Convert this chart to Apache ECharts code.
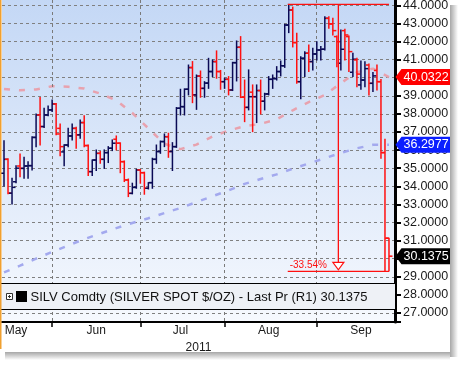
<!DOCTYPE html>
<html><head><meta charset="utf-8">
<script src="https://cdn.jsdelivr.net/npm/echarts@6/dist/echarts.min.js"></script>
<style>html,body{margin:0;padding:0;background:#fff}#c{width:462px;height:366px}</style>
</head><body><div id="c"></div>
<script>
// ---------------- data ----------------
const dates = [
'2011-05-16','2011-05-17','2011-05-18','2011-05-19','2011-05-20','2011-05-23','2011-05-24','2011-05-25','2011-05-26','2011-05-27','2011-05-30','2011-05-31',
'2011-06-01','2011-06-02','2011-06-03','2011-06-06','2011-06-07','2011-06-08','2011-06-09','2011-06-10','2011-06-13','2011-06-14','2011-06-15','2011-06-16','2011-06-17','2011-06-20','2011-06-21','2011-06-22','2011-06-23','2011-06-24','2011-06-27','2011-06-28','2011-06-29','2011-06-30',
'2011-07-01','2011-07-04','2011-07-05','2011-07-06','2011-07-07','2011-07-08','2011-07-11','2011-07-12','2011-07-13','2011-07-14','2011-07-15','2011-07-18','2011-07-19','2011-07-20','2011-07-21','2011-07-22','2011-07-25','2011-07-26','2011-07-27','2011-07-28','2011-07-29',
'2011-08-01','2011-08-02','2011-08-03','2011-08-04','2011-08-05','2011-08-08','2011-08-09','2011-08-10','2011-08-11','2011-08-12','2011-08-15','2011-08-16','2011-08-17','2011-08-18','2011-08-19','2011-08-22','2011-08-23','2011-08-24','2011-08-25','2011-08-26','2011-08-29','2011-08-30','2011-08-31',
'2011-09-01','2011-09-02','2011-09-05','2011-09-06','2011-09-07','2011-09-08','2011-09-09','2011-09-12','2011-09-13','2011-09-14','2011-09-15','2011-09-16','2011-09-19','2011-09-20','2011-09-21','2011-09-22','2011-09-23','2011-09-26','2011-09-27'
];
const opens = [34.72,35.49,33.62,34.25,35.12,34.99,35.12,35.14,36.70,37.94,
37.30,37.94,38.22,38.55,37.20,35.90,36.28,36.78,37.20,36.84,
37.52,36.25,34.81,35.45,35.82,35.49,35.86,36.10,36.60,36.38,
35.36,34.35,33.61,33.94,34.90,34.75,33.89,34.20,35.49,35.92,
36.47,36.74,35.92,36.19,38.31,38.40,39.36,40.56,39.05,40.09,
39.41,39.70,40.34,40.89,40.34,39.78,39.91,39.32,40.83,41.68,
38.92,38.36,39.20,38.95,39.29,38.70,39.10,39.91,39.95,40.34,
40.66,42.91,43.74,41.94,39.78,41.07,41.35,40.89,41.31,41.53,
41.57,43.28,42.97,42.27,40.80,42.60,42.27,40.30,40.98,39.60,
39.87,40.70,39.69,40.40,39.78,35.86,31.13];
const highs = [36.52,35.52,34.44,35.14,35.79,35.60,35.36,36.74,38.00,38.90,
38.31,38.44,38.77,38.58,37.44,36.30,37.20,37.44,37.26,37.66,
37.89,36.28,35.45,36.01,35.92,36.01,36.19,36.56,36.78,36.40,
35.40,34.40,34.17,34.94,34.92,34.78,34.20,35.55,36.28,36.50,
36.89,36.93,36.41,38.35,39.36,39.38,40.70,40.89,40.15,40.37,
39.78,41.07,40.98,41.48,40.40,39.97,40.06,40.85,42.03,42.27,
39.87,40.43,39.60,39.60,39.87,39.14,40.06,40.15,40.61,40.92,
42.95,44.05,43.90,42.45,41.16,41.44,41.81,41.62,41.99,41.72,
43.37,43.37,43.28,42.30,42.64,42.67,42.30,41.35,41.07,40.92,
40.88,40.76,40.28,40.70,39.90,36.60,31.13];
const lows = [34.02,33.58,33.02,34.20,34.53,34.44,34.44,34.90,36.19,36.28,
37.25,37.90,38.13,36.84,35.69,35.14,36.19,36.56,36.10,36.65,
36.19,34.59,34.59,34.87,35.27,34.99,35.31,35.97,36.01,34.75,
34.26,33.43,33.58,33.89,34.17,33.56,33.85,33.89,35.27,35.82,
36.19,35.60,34.87,36.15,37.94,37.94,39.05,38.62,38.25,38.92,
38.92,39.41,40.06,39.97,39.36,39.41,39.05,39.29,39.82,38.90,
37.57,38.22,37.02,37.52,38.00,38.22,39.05,39.41,39.87,40.10,
40.57,42.49,41.70,39.69,38.84,40.06,40.34,40.43,40.98,40.98,
41.53,42.73,42.36,40.61,40.43,40.98,40.34,40.06,39.50,39.36,
39.50,39.04,39.23,39.32,35.55,29.30,29.32];
const closes = [35.49,33.62,33.94,35.00,34.99,35.12,35.14,36.70,37.94,37.30,
37.94,38.22,38.55,36.89,36.19,36.28,36.78,37.20,36.84,37.52,
36.25,34.81,35.45,35.82,35.49,35.86,36.10,36.38,36.38,35.36,
34.35,33.61,33.94,34.90,34.75,33.89,34.20,35.49,35.92,36.47,
36.74,35.92,36.19,38.31,38.40,39.36,40.56,39.05,40.09,39.41,
39.70,40.34,40.89,40.34,39.78,39.91,39.32,40.83,41.68,38.92,
38.36,38.95,38.95,39.29,38.70,39.10,39.91,39.95,40.34,40.66,
42.91,43.74,41.94,39.78,41.07,41.35,40.89,41.31,41.53,41.57,
43.28,42.97,42.60,41.99,41.57,42.36,41.44,41.02,40.20,39.87,
40.50,39.69,40.10,39.78,35.86,31.13,30.1375];
// moving averages, read every 4th trading day
const maSampleEvery = 4;
const maRed = [39.38,39.30,39.35,39.53,39.50,39.40,39.12,38.75,38.05,37.20,36.35,36.05,36.30,36.75,37.08,37.32,37.45,37.70,38.20,38.65,39.05,39.70,40.30,40.50,40.0322];
const maBlue = [29.24,29.61,30.00,30.37,30.73,31.08,31.38,31.69,31.97,32.23,32.52,32.80,33.13,33.45,33.77,34.13,34.40,34.66,34.97,35.26,35.55,35.84,36.10,36.29,36.2977];
const lastPrice = 30.1375, maRedLast = 40.0322, maBlueLast = 36.2977;
const changeLabel = '-33.54%';
const legendName = 'SILV Comdty (SILVER SPOT $/OZ) - Last Pr (R1)';
const yearLabel = '2011';
const monthNames = ['Jan','Feb','Mar','Apr','May','Jun','Jul','Aug','Sep','Oct','Nov','Dec'];

// ---------------- layout helpers ----------------
const FONT = '"Liberation Sans", Arial, sans-serif';
const NAVY = '#0a0a55', RED = '#ff1010';
const Y_MIN = 26.5, Y_MAX = 44.5;
const monthOf = d => +d.slice(5, 7);
const firstIdx = {}, lastIdx = {};
dates.forEach((d, i) => { const m = monthOf(d); if (!(m in firstIdx)) firstIdx[m] = i; lastIdx[m] = i; });
const monthList = Object.keys(firstIdx).map(Number).sort((a, b) => a - b);
const labelIdx = new Set();
monthList.forEach((m, j) => {
  let idx;
  if (j === 0) idx = 3;
  else if (j === monthList.length - 1) idx = firstIdx[m] + 11;
  else idx = Math.round((firstIdx[m] + lastIdx[m]) / 2);
  labelIdx.add(idx);
});
const monthStart = new Set();
dates.forEach((d, i) => { if (i > 0 && monthOf(d) !== monthOf(dates[i - 1])) monthStart.add(i); });
const xCats = dates.concat(['']);

const ohlcData = dates.map((d, i) => [i, opens[i], highs[i], lows[i], closes[i]]);
const iHigh = highs.indexOf(Math.max(...highs));
const lowMin = Math.min(...lows);
const iEnd = dates.length - 1;

// dashed vertical line built from short solid segments
function dashedV(x, y0, y1) {
  const segs = [];
  for (let y = y0; y < y1; y += 6) {
    segs.push({type: 'line', shape: {x1: x, y1: y, x2: x, y2: Math.min(y + 3, y1)},
      style: {stroke: '#7a7a7a', lineWidth: 1}});
  }
  return segs;
}

const chart = echarts.init(document.getElementById('c'), null, {renderer: 'canvas'});
const gridLine = {color: '#808080', width: 1, type: [3, 3]};

const option = {
  animation: false,
  backgroundColor: '#fff',
  grid: {
    show: true, left: 2, right: 67, top: -3.75, bottom: 44, containLabel: false, outerBoundsMode: 'none',
    borderWidth: 0,
    backgroundColor: new echarts.graphic.LinearGradient(0, 0, 0, 1, [
      {offset: 0, color: '#c3d7f5'}, {offset: 1, color: '#f6f9fe'}])
  },
  xAxis: {
    type: 'category', data: xCats, boundaryGap: true,
    axisLine: {show: true, lineStyle: {color: '#000', width: 2}},
    axisTick: {show: true, alignWithLabel: true, interval: i => monthStart.has(i), length: 5, lineStyle: {color: '#000', width: 1.5}},
    axisLabel: {
      interval: i => labelIdx.has(i),
      formatter: (v, i) => (labelIdx.has(i) && v) ? monthNames[monthOf(v) - 1] : '',
      margin: 3, color: '#1a1a1a', fontSize: 12, fontFamily: FONT
    },
    splitLine: {show: false},
    name: yearLabel, nameLocation: 'middle', nameGap: 18,
    nameTextStyle: {fontSize: 12, color: '#1a1a1a', fontFamily: FONT}
  },
  yAxis: {
    type: 'value', position: 'right', min: Y_MIN, max: Y_MAX, splitNumber: 18, minInterval: 1, maxInterval: 1,
    axisLine: {show: true, lineStyle: {color: '#000', width: 3}},
    axisTick: {show: true, length: 6, lineStyle: {color: '#000', width: 2}},
    axisLabel: {
      margin: 8, color: '#1a1a1a', fontSize: 12.5, fontFamily: FONT,
      formatter: v => Math.abs(v - Math.round(v)) < 1e-6 ? v.toFixed(4) : ''
    },
    splitLine: {show: true, lineStyle: gridLine}
  },
  series: [
    {
      type: 'line', name: 'MA red', data: maRed.map((v, j) => [j * maSampleEvery, v]),
      symbol: 'none', silent: true, z: 1,
      lineStyle: {color: '#e8a2ae', width: 2.5, type: [6, 9]}
    },
    {
      type: 'line', name: 'MA blue', data: maBlue.map((v, j) => [j * maSampleEvery, v]),
      symbol: 'none', silent: true, z: 1,
      lineStyle: {color: '#a3a9ee', width: 2.5, type: [6, 9]}
    },
    {
      type: 'custom', name: 'SILV', z: 3, silent: true,
      encode: {x: 0, y: [1, 2, 3, 4]},
      data: ohlcData,
      renderItem: (params, api) => {
        const i = api.value(0);
        const o = api.value(1), h = api.value(2), l = api.value(3), c = api.value(4);
        const pH = api.coord([i, h]), pL = api.coord([i, l]);
        const yO = api.coord([i, o])[1], yC = api.coord([i, c])[1];
        const col = c >= o ? NAVY : RED;
        const x = pH[0];
        const st = {stroke: col, lineWidth: 1.5};
        let children = [];
        if (monthStart.has(i)) {
          const gx = Math.floor(x) + 0.5;
          const yT = Math.max(0, api.coord([i, Y_MAX])[1]);
          const yB = api.coord([i, Y_MIN])[1];
          children = children.concat(dashedV(gx, yT, yB));
        }
        children.push(
          {type: 'line', shape: {x1: x, y1: pH[1] - 0.5, x2: x, y2: pL[1] + 0.5}, style: st},
          {type: 'line', shape: {x1: x - 3, y1: yO, x2: x, y2: yO}, style: st},
          {type: 'line', shape: {x1: x, y1: yC, x2: x + 3.5, y2: yC}, style: st}
        );
        return {type: 'group', children: children};
      }
    },
    {
      type: 'custom', name: 'change', z: 4, silent: true,
      encode: {x: 0, y: 1},
      data: [[iHigh, highs[iHigh], iEnd, lowMin]],
      renderItem: (params, api) => {
        const pA = api.coord([api.value(0), api.value(1)]);
        const pB = api.coord([api.value(2), api.value(3)]);
        const x1 = pA[0] - 1, x2 = pB[0], yT = pA[1], yB = pB[1];
        const mx = (x1 + x2) / 2;
        const st = {stroke: RED, lineWidth: 1.3, fill: null};
        return {type: 'group', children: [
          {type: 'line', shape: {x1: x1, y1: yT, x2: x2, y2: yT}, style: st},
          {type: 'line', shape: {x1: x1, y1: yB, x2: x2, y2: yB}, style: st},
          {type: 'line', shape: {x1: mx, y1: yT, x2: mx, y2: yB - 9}, style: st},
          {type: 'polygon', shape: {points: [[mx - 5.5, yB - 9], [mx + 5.5, yB - 9], [mx, yB - 1.5]]},
            style: {stroke: RED, lineWidth: 1.2, fill: '#ffffff'}},
          {type: 'text', x: x1 + 2, y: yB - 1,
            style: {text: changeLabel, fill: RED, font: '10px "Liberation Sans Narrow", "Liberation Sans", Arial',
              align: 'left', verticalAlign: 'bottom', textAlign: 'left', textVerticalAlign: 'bottom'}}
        ]};
      }
    }
  ]
};
chart.setOption(option);

// ---------------- overlay graphics ----------------
const yPix = v => chart.convertToPixel({yAxisIndex: 0}, v);
function tag(v, bg) {
  const yc = yPix(v);
  return [
    {type: 'polygon', z: 40, shape: {points: [[395.5, yc], [401.5, yc - 8], [450, yc - 8], [450, yc + 8], [401.5, yc + 8]]},
      style: {fill: bg}},
    {type: 'text', z: 41, x: 403.5, y: yc,
      style: {text: v.toFixed(4), fill: '#fff', font: '12.5px ' + FONT,
        align: 'left', verticalAlign: 'middle', textAlign: 'left', textVerticalAlign: 'middle'}}
  ];
}
const graphics = [
  // legend band
  {type: 'rect', z: 30, shape: {x: 1, y: 283, width: 394, height: 26}, style: {fill: '#eef1f6'}},
  {type: 'line', z: 31, shape: {x1: 1, y1: 283.5, x2: 395, y2: 283.5}, style: {stroke: '#000', lineWidth: 1}},
  {type: 'line', z: 31, shape: {x1: 1, y1: 309.5, x2: 395, y2: 309.5}, style: {stroke: '#000', lineWidth: 1}},
  {type: 'rect', z: 31, shape: {x: 6.5, y: 293.5, width: 6, height: 6}, style: {fill: '#fff', stroke: '#333', lineWidth: 1}},
  {type: 'line', z: 32, shape: {x1: 8, y1: 296.5, x2: 11, y2: 296.5}, style: {stroke: '#333', lineWidth: 1}},
  {type: 'line', z: 32, shape: {x1: 9.5, y1: 295, x2: 9.5, y2: 298}, style: {stroke: '#333', lineWidth: 1}},
  {type: 'rect', z: 31, shape: {x: 16, y: 291, width: 11, height: 11}, style: {fill: '#000'}},
  {type: 'text', z: 31, x: 30.5, y: 297,
    style: {text: legendName + ' ' + lastPrice.toFixed(4), fill: '#111', font: '13px ' + FONT,
      align: 'left', verticalAlign: 'middle', textAlign: 'left', textVerticalAlign: 'middle'}},
  // frame: left orange edge and drop shadow
  {type: 'line', z: 50, shape: {x1: 0.75, y1: 0, x2: 0.75, y2: 349}, style: {stroke: '#f0a030', lineWidth: 1.5}},
  {type: 'rect', z: 50, shape: {x: 450, y: 5, width: 8, height: 352},
    style: {fill: new echarts.graphic.LinearGradient(0, 0, 1, 0, [{offset: 0, color: 'rgba(0,0,0,0.35)'}, {offset: 1, color: 'rgba(0,0,0,0)'}])}},
  {type: 'rect', z: 50, shape: {x: 5, y: 352, width: 445, height: 8},
    style: {fill: new echarts.graphic.LinearGradient(0, 0, 0, 1, [{offset: 0, color: 'rgba(0,0,0,0.35)'}, {offset: 1, color: 'rgba(0,0,0,0)'}])}}
].concat(tag(maRedLast, '#ff0000'), tag(maBlueLast, '#0b1fff'), tag(lastPrice, '#000000'));
chart.setOption({graphic: graphics});
</script>
</body></html>
